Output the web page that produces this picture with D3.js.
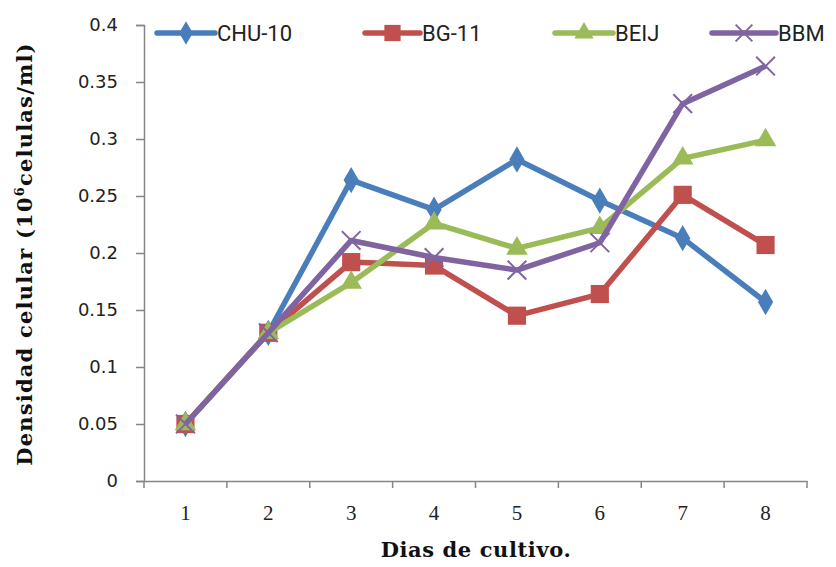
<!DOCTYPE html>
<html>
<head>
<meta charset="utf-8">
<script src="https://cdn.jsdelivr.net/npm/d3@7"></script>
<style>
  body { margin: 0; background: #fff; }
</style>
</head>
<body>
<script>
// datos
const dias = [1, 2, 3, 4, 5, 6, 7, 8];
const yTicks = [0, 0.05, 0.1, 0.15, 0.2, 0.25, 0.3, 0.35, 0.4];
const chu10 = [0.05, 0.13, 0.264, 0.238, 0.282, 0.246, 0.213, 0.157];
const bg11  = [0.05, 0.13, 0.192, 0.189, 0.145, 0.164, 0.251, 0.207];
const beij  = [0.05, 0.13, 0.174, 0.226, 0.204, 0.222, 0.283, 0.299];
const bbm   = [0.05, 0.13, 0.211, 0.196, 0.185, 0.209, 0.331, 0.364];

const series = [
  { name: 'CHU-10', values: chu10, color: '#4a7ebb', symbol: d3.symbolDiamond, size: 200, stroke: false },
  { name: 'BG-11', values: bg11, color: '#c0504d', symbol: d3.symbolSquare, size: 330, stroke: false },
  { name: 'BEIJ', values: beij, color: '#9bbb59', symbol: d3.symbolTriangle, size: 200, stroke: false },
  { name: 'BBM', values: bbm, color: '#8064a2', symbol: d3.symbolTimes, size: 230, stroke: true }
];

const width = 836, height = 567;
const svg = d3.select('body').append('svg')
  .attr('width', width)
  .attr('height', height);

const x = d3.scaleBand().domain(dias).range([144, 807]);
const y = d3.scaleLinear().domain([0, 0.4]).range([481, 25]);
const axisColor = '#868686';

// eje Y
const yAxis = svg.append('g')
  .attr('transform', 'translate(144,0)')
  .call(d3.axisLeft(y).tickValues(yTicks).tickSize(8).tickPadding(18)
    .tickFormat(d => d3.format('')(+d.toFixed(2))));
yAxis.select('.domain').attr('stroke', axisColor).attr('stroke-width', 1.5);
yAxis.selectAll('.tick line').attr('stroke', axisColor).attr('stroke-width', 1.5);
yAxis.selectAll('.tick text')
  .attr('font-family', 'DejaVu Sans, Verdana, sans-serif')
  .attr('font-size', 18)
  .attr('fill', '#222');

// eje X
const xAxis = svg.append('g')
  .attr('transform', 'translate(0,481)')
  .call(d3.axisBottom(x).tickSize(0).tickPadding(24));
xAxis.select('.domain').attr('stroke', axisColor).attr('stroke-width', 1.5);
xAxis.selectAll('.tick text')
  .attr('font-family', 'Liberation Serif, DejaVu Serif, serif')
  .attr('font-size', 21)
  .attr('fill', '#222');
const bordes = dias.map(d => x(d)).concat([x(dias[dias.length - 1]) + x.bandwidth()]);
xAxis.selectAll('.borde')
  .data(bordes)
  .enter()
  .append('line')
  .attr('class', 'borde')
  .attr('x1', d => d).attr('x2', d => d)
  .attr('y1', 0).attr('y2', 7)
  .attr('stroke', axisColor)
  .attr('stroke-width', 1.5);

// titulos
svg.append('text')
  .attr('x', 476)
  .attr('y', 557)
  .attr('text-anchor', 'middle')
  .attr('font-family', 'DejaVu Serif, serif')
  .attr('font-weight', 'bold')
  .attr('font-size', 21)
  .attr('letter-spacing', 0.6)
  .attr('fill', '#111')
  .text('Dias de cultivo.');

const yTitle = svg.append('text')
  .attr('transform', 'translate(32,254) rotate(-90)')
  .attr('text-anchor', 'middle')
  .attr('font-family', 'DejaVu Serif, serif')
  .attr('font-weight', 'bold')
  .attr('font-size', 21)
  .attr('letter-spacing', 1.2)
  .attr('fill', '#111');
yTitle.append('tspan').text('Densidad celular (10');
yTitle.append('tspan').attr('font-size', 13).attr('dy', -8).text('6');
yTitle.append('tspan').attr('dy', 8).text('celulas/ml)');

// lineas
const cx = (d, i) => x(dias[i]) + x.bandwidth() / 2;
const line = d3.line().x(cx).y(d => y(d));

series.forEach(s => {
  const g = svg.append('g').attr('class', 'serie');
  g.append('path')
    .attr('d', line(s.values))
    .attr('fill', 'none')
    .attr('stroke', s.color)
    .attr('stroke-width', 5.5)
    .attr('stroke-linejoin', 'round');
  g.selectAll('.marker')
    .data(s.values)
    .enter()
    .append('path')
    .attr('class', 'marker')
    .attr('transform', (d, i) => `translate(${cx(d, i)},${y(d)})`)
    .attr('d', d3.symbol().type(s.symbol).size(s.size))
    .attr('fill', s.stroke ? 'none' : s.color)
    .attr('stroke', s.color)
    .attr('stroke-width', s.stroke ? 2 : 0);
});

// leyenda
const legendPos = [
  { x1: 157, x2: 215 },
  { x1: 365, x2: 420 },
  { x1: 555, x2: 613 },
  { x1: 712, x2: 776 }
];
const legend = svg.append('g').attr('class', 'legend');
series.forEach((s, i) => {
  const p = legendPos[i];
  const ly = 33;
  legend.append('line')
    .attr('x1', p.x1).attr('x2', p.x2)
    .attr('y1', ly).attr('y2', ly)
    .attr('stroke', s.color)
    .attr('stroke-width', 5.5)
    .attr('stroke-linecap', 'round');
  legend.append('path')
    .attr('transform', `translate(${(p.x1 + p.x2) / 2},${ly})`)
    .attr('d', d3.symbol().type(s.symbol).size(s.size * 0.8))
    .attr('fill', s.stroke ? 'none' : s.color)
    .attr('stroke', s.color)
    .attr('stroke-width', s.stroke ? 2 : 0);
  legend.append('text')
    .attr('x', p.x2 + 2)
    .attr('y', ly)
    .attr('dy', '0.35em')
    .attr('font-family', 'Liberation Sans Narrow, Roboto, sans-serif')
    .attr('font-size', 22)
    .attr('fill', '#222')
    .text(s.name);
});
</script>
</body>
</html>
